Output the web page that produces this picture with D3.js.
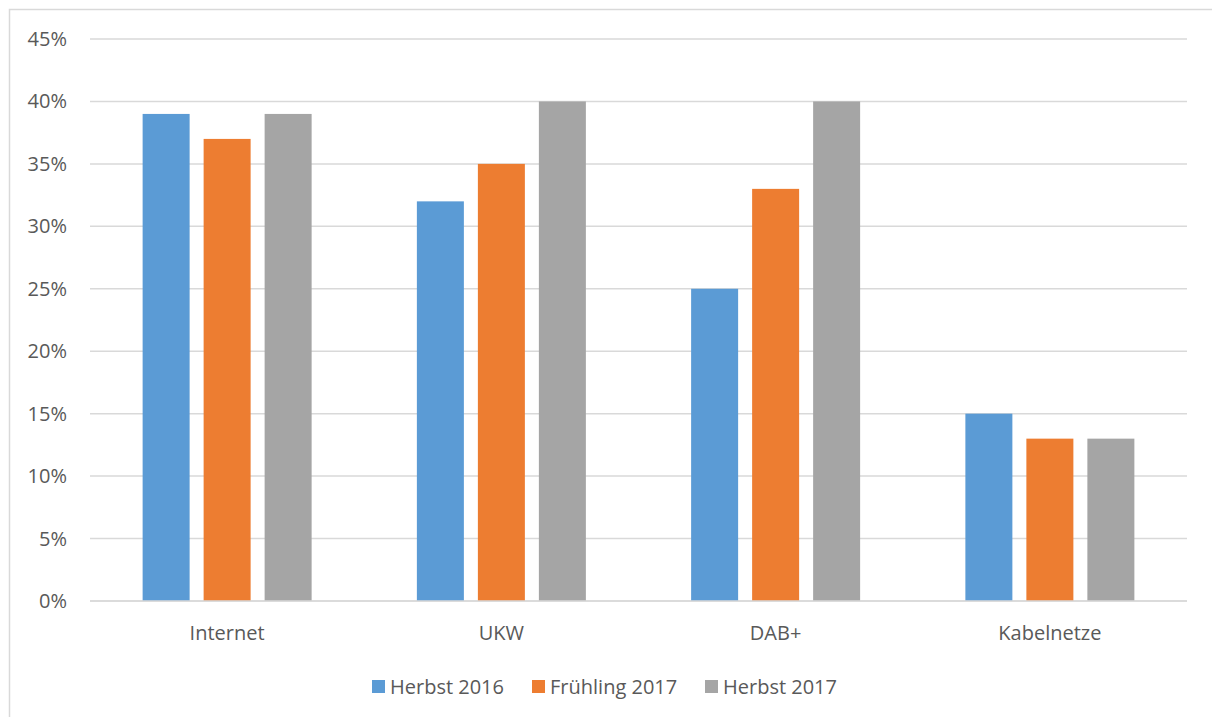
<!DOCTYPE html>
<html><head><meta charset="utf-8">
<script src="https://cdn.jsdelivr.net/npm/d3@7"></script>
<style>body{margin:0;background:#fff}svg{display:block}text{font-family:"Open Sans",sans-serif;fill:#595959}</style>
</head><body><svg id="c" width="1212" height="717"></svg>
<script>
const categories = ["Internet","UKW","DAB+","Kabelnetze"];
const series = ["Herbst 2016","Frühling 2017","Herbst 2017"];
const herbst2016 = [39,32,25,15];
const fruehling2017 = [37,35,33,13];
const herbst2017 = [39,40,40,13];
const yTicks = [0,5,10,15,20,25,30,35,40,45];
const colors = ["#5B9BD5","#ED7D31","#A5A5A5"];
const values = [herbst2016, fruehling2017, herbst2017];

const svg = d3.select("#c");
svg.append("rect").attr("x",9.5).attr("y",9.5).attr("width",1210).attr("height",720)
  .attr("fill","#fff").attr("stroke","#d9d9d9").attr("stroke-width",1.5);

const L=90,R=1187,T=39,B=601;
const x0 = d3.scaleBand().domain(categories).range([L,R]).padding(0);
const groupW = 169;
const x1 = d3.scaleBand().domain(series).range([0,groupW]).paddingInner(14/61).paddingOuter(0);
const y = d3.scaleLinear().domain([0,45]).range([B,T]);

svg.append("g").selectAll("line").data(yTicks).join("line")
  .attr("x1",L).attr("x2",R).attr("y1",d=>y(d)).attr("y2",d=>y(d))
  .attr("stroke","#d9d9d9").attr("stroke-width",1.5);

svg.append("g").selectAll("text").data(yTicks).join("text")
  .attr("x",67).attr("y",d=>y(d)).attr("dy","0.35em").attr("text-anchor","end")
  .attr("font-size",20).text(d=>d+"%");

const g = svg.append("g");
series.forEach((s,i)=>{
  g.append("g").selectAll("rect").data(categories).join("rect")
    .attr("x",(c)=>x0(c)+x0.bandwidth()/2-groupW/2+x1(s))
    .attr("width",x1.bandwidth())
    .attr("y",(c,j)=>y(values[i][j]))
    .attr("height",(c,j)=>y(0)-y(values[i][j]))
    .attr("fill",colors[i]);
});

svg.append("line").attr("x1",L).attr("x2",R).attr("y1",B).attr("y2",B)
  .attr("stroke","#d9d9d9").attr("stroke-width",1.5);

svg.append("g").selectAll("text").data(categories).join("text")
  .attr("x",c=>x0(c)+x0.bandwidth()/2).attr("y",633).attr("dy","0.35em")
  .attr("text-anchor","middle").attr("font-size",20).text(c=>c);

const legX=[372,532,705];
const leg = svg.append("g");
series.forEach((s,i)=>{
  leg.append("rect").attr("x",legX[i]).attr("y",680).attr("width",13).attr("height",13).attr("fill",colors[i]);
  leg.append("text").attr("x",legX[i]+18).attr("y",686.5).attr("dy","0.35em").attr("font-size",20).text(s);
});
</script></body></html>
